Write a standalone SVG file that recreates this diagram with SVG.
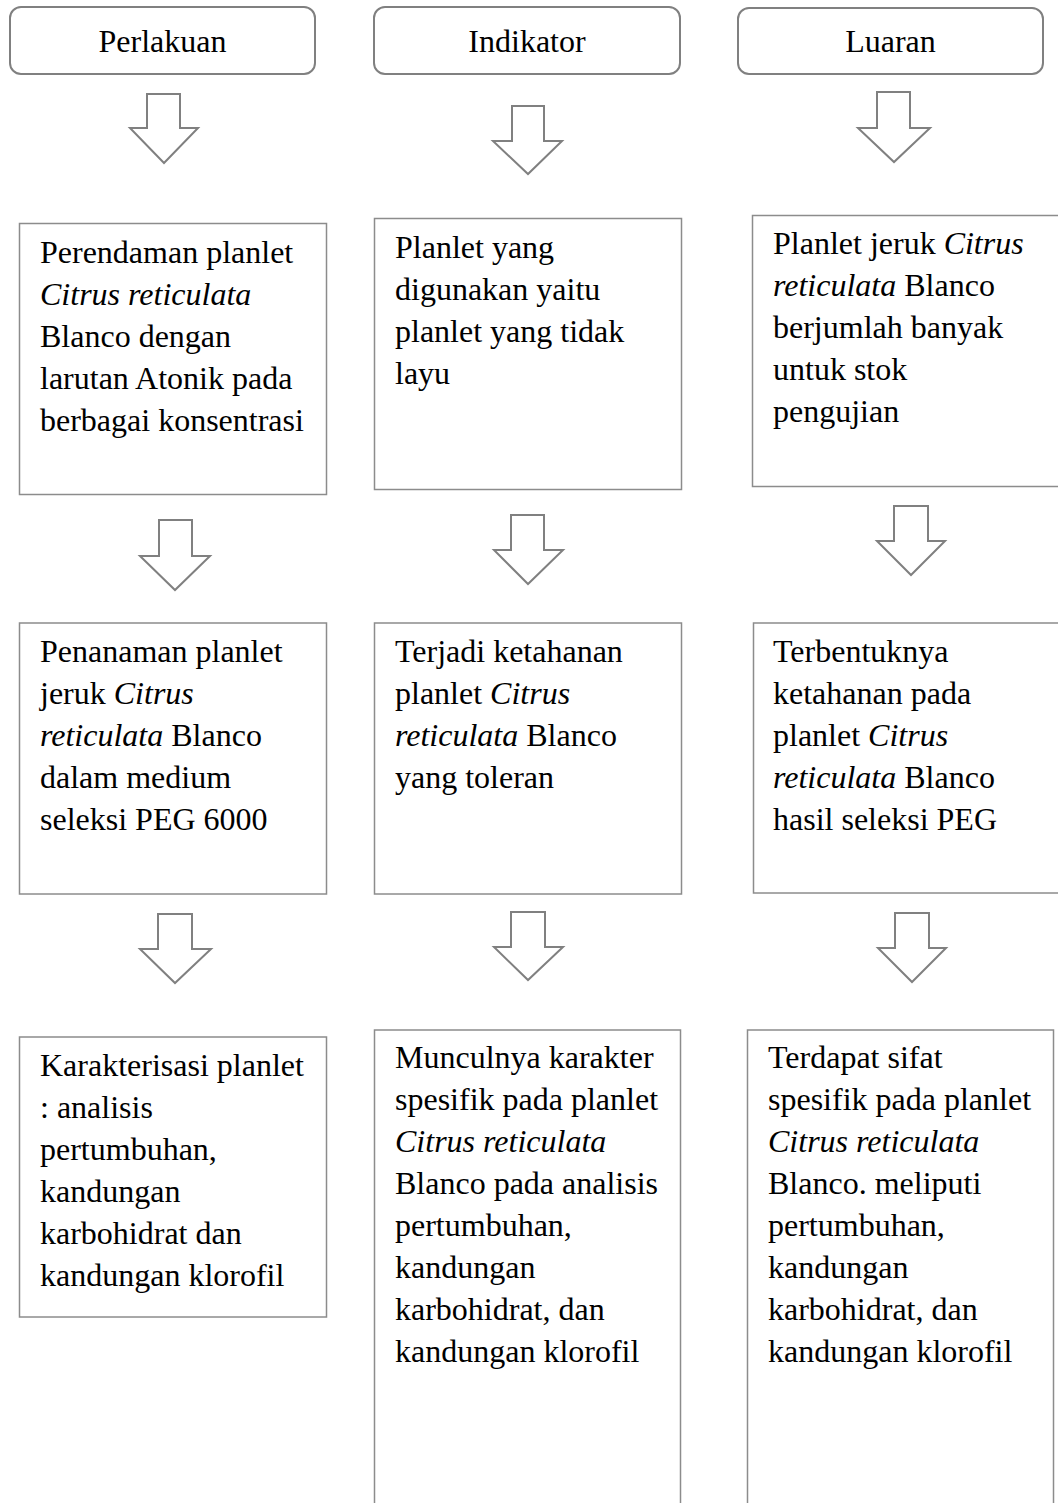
<svg xmlns="http://www.w3.org/2000/svg" width="1058" height="1503" viewBox="0 0 1058 1503">
<style>
.bg{fill:#ffffff}
.hdr{fill:#ffffff;stroke:#808080;stroke-width:2}
.box{fill:#ffffff;stroke:#8c8c8c;stroke-width:1.5}
.arr{fill:#ffffff;stroke:#808080;stroke-width:2;stroke-linejoin:miter}
text{font-family:"Liberation Serif","Times New Roman",serif;font-size:32px;fill:#000000}
.c{text-anchor:middle}
.i{font-style:italic}
</style>
<rect class="bg" x="0" y="0" width="1058" height="1503"/>
<g id="connectors">
<polygon class="arr" points="147,94 180,94 180,128 198,128 164,163 130,128 147,128"/>
<polygon class="arr" points="512,106 544,106 544,141 562,141 528,174 493,141 512,141"/>
<polygon class="arr" points="877,92 910,92 910,128 930,128 894,162 858,128 877,128"/>
<polygon class="arr" points="159,520 192,520 192,556 210,556 175,590 140,556 159,556"/>
<polygon class="arr" points="511,515 544,515 544,550 563,550 528,584 494,550 511,550"/>
<polygon class="arr" points="894,506 928,506 928,541 945,541 911,575 877,541 894,541"/>
<polygon class="arr" points="158,914 192,914 192,949 211,949 175,983 140,949 158,949"/>
<polygon class="arr" points="511,912 545,912 545,947 563,947 528,980 494,947 511,947"/>
<polygon class="arr" points="895,913 929,913 929,948 946,948 912,982 878,948 895,948"/>
</g>
<g id="hdr-perlakuan"><rect class="hdr" x="10" y="7" width="305" height="67" rx="11"/><text class="c" x="162.5" y="52">Perlakuan</text></g>
<g id="hdr-indikator"><rect class="hdr" x="374" y="7" width="306" height="67" rx="11"/><text class="c" x="527" y="52">Indikator</text></g>
<g id="hdr-luaran"><rect class="hdr" x="738" y="8" width="305" height="66" rx="11"/><text class="c" x="890.5" y="52">Luaran</text></g>
<g id="p1"><rect class="box" x="19.5" y="223.5" width="307" height="271"/>
<text x="40" y="263">Perendaman planlet</text>
<text x="40" y="305" class="i">Citrus reticulata</text>
<text x="40" y="347">Blanco dengan</text>
<text x="40" y="389">larutan Atonik pada</text>
<text x="40" y="431">berbagai konsentrasi</text></g>
<g id="i1"><rect class="box" x="374.5" y="218.5" width="307" height="271"/>
<text x="395" y="258">Planlet yang</text>
<text x="395" y="300">digunakan yaitu</text>
<text x="395" y="342">planlet yang tidak</text>
<text x="395" y="384">layu</text></g>
<g id="l1"><rect class="box" x="752.5" y="215.5" width="310" height="271"/>
<text x="773" y="254">Planlet jeruk <tspan class="i">Citrus</tspan></text>
<text x="773" y="296"><tspan class="i">reticulata</tspan> Blanco</text>
<text x="773" y="338">berjumlah banyak</text>
<text x="773" y="380">untuk stok</text>
<text x="773" y="422">pengujian</text></g>
<g id="p2"><rect class="box" x="19.5" y="623" width="307" height="271"/>
<text x="40" y="662">Penanaman planlet</text>
<text x="40" y="704">jeruk <tspan class="i">Citrus</tspan></text>
<text x="40" y="746"><tspan class="i">reticulata</tspan> Blanco</text>
<text x="40" y="788">dalam medium</text>
<text x="40" y="830">seleksi PEG 6000</text></g>
<g id="i2"><rect class="box" x="374.5" y="623" width="307" height="271"/>
<text x="395" y="662">Terjadi ketahanan</text>
<text x="395" y="704">planlet <tspan class="i">Citrus</tspan></text>
<text x="395" y="746"><tspan class="i">reticulata</tspan> Blanco</text>
<text x="395" y="788">yang toleran</text></g>
<g id="l2"><rect class="box" x="753.5" y="623" width="310" height="270"/>
<text x="773" y="662">Terbentuknya</text>
<text x="773" y="704">ketahanan pada</text>
<text x="773" y="746">planlet <tspan class="i">Citrus</tspan></text>
<text x="773" y="788"><tspan class="i">reticulata</tspan> Blanco</text>
<text x="773" y="830">hasil seleksi PEG</text></g>
<g id="p3"><rect class="box" x="19.5" y="1037" width="307" height="280"/>
<text x="40" y="1076">Karakterisasi planlet</text>
<text x="40" y="1118">: analisis</text>
<text x="40" y="1160">pertumbuhan,</text>
<text x="40" y="1202">kandungan</text>
<text x="40" y="1244">karbohidrat dan</text>
<text x="40" y="1286">kandungan klorofil</text></g>
<g id="i3"><rect class="box" x="374.5" y="1030" width="306" height="490"/>
<text x="395" y="1068">Munculnya karakter</text>
<text x="395" y="1110">spesifik pada planlet</text>
<text x="395" y="1152" class="i">Citrus reticulata</text>
<text x="395" y="1194">Blanco pada analisis</text>
<text x="395" y="1236">pertumbuhan,</text>
<text x="395" y="1278">kandungan</text>
<text x="395" y="1320">karbohidrat, dan</text>
<text x="395" y="1362">kandungan klorofil</text></g>
<g id="l3"><rect class="box" x="747.5" y="1030" width="306" height="490"/>
<text x="768" y="1068">Terdapat sifat</text>
<text x="768" y="1110">spesifik pada planlet</text>
<text x="768" y="1152" class="i">Citrus reticulata</text>
<text x="768" y="1194">Blanco. meliputi</text>
<text x="768" y="1236">pertumbuhan,</text>
<text x="768" y="1278">kandungan</text>
<text x="768" y="1320">karbohidrat, dan</text>
<text x="768" y="1362">kandungan klorofil</text></g>
</svg>
